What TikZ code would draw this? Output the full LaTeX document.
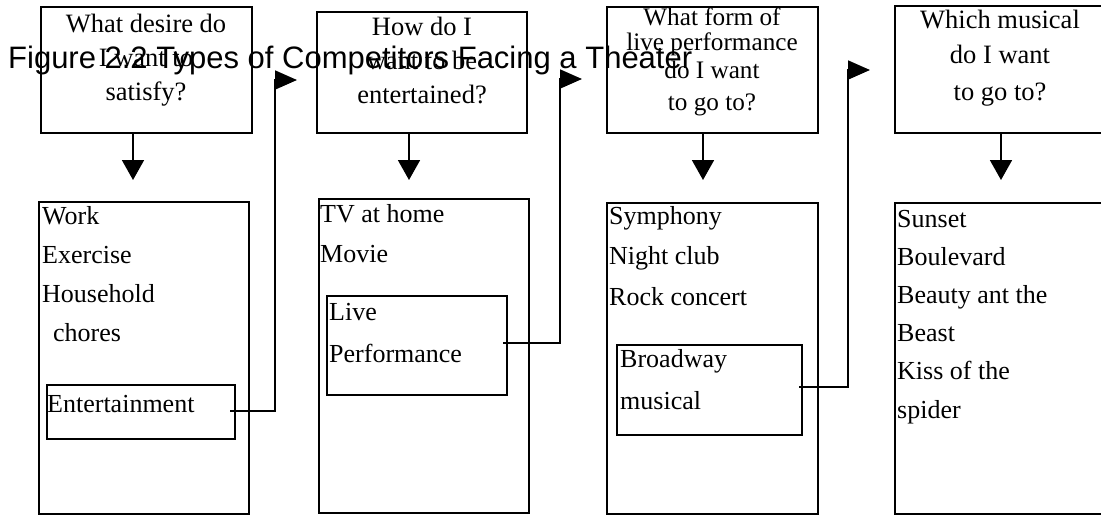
\documentclass[tikz,border=0pt]{standalone}
\usepackage{fontspec}
\setmainfont{Liberation Serif}
\newfontfamily\arialf{Liberation Sans}
\usetikzlibrary{arrows.meta}
\begin{document}
\begin{tikzpicture}[x=1pt,y=-1pt,
  box/.style={draw,line width=1.8pt,inner sep=0pt,outer sep=0pt,anchor=north west},
  qt/.style={anchor=base,inner sep=0pt,font=\fontsize{26.5}{26.5}\selectfont},
  qs/.style={anchor=base,inner sep=0pt,font=\fontsize{25.2}{25.2}\selectfont},
  lt/.style={anchor=base west,inner sep=0pt,font=\fontsize{26}{26}\selectfont},
  dn/.style={line width=1.8pt,-{Triangle[length=20pt,width=22pt]}},
  rt/.style={line width=1.8pt,-{Triangle[length=22pt,width=19pt]}}]
\useasboundingbox (0,0) rectangle (1101,515);
\clip (0,0) rectangle (1101,515);
% top boxes
\node[box,minimum width=211pt,minimum height=126pt] (q1) at (41,7) {};
\node[box,minimum width=210pt,minimum height=121pt] (q2) at (317,12) {};
\node[box,minimum width=211pt,minimum height=126pt] (q3) at (607,7) {};
\node[box,minimum width=220pt,minimum height=127pt] (q4) at (895,6) {};
% bottom boxes
\node[box,minimum width=210pt,minimum height=312pt] (b1) at (39,202) {};
\node[box,minimum width=210pt,minimum height=314pt] (b2) at (319,199) {};
\node[box,minimum width=211pt,minimum height=311pt] (b3) at (607,203) {};
\node[box,minimum width=220pt,minimum height=311pt] (b4) at (895,203) {};
% inner boxes
\node[box,minimum width=188pt,minimum height=54pt] (e1) at (47,385) {};
\node[box,minimum width=180pt,minimum height=99pt] (e2) at (327,296) {};
\node[box,minimum width=185pt,minimum height=90pt] (e3) at (617,345) {};
% question texts
\node[qt] (q1a) at (146,32) {What desire do};
\node[qt] (q1b) at (146,66) {I want to};
\node[qt] (q1c) at (146,100) {satisfy?};
\node[qt] (q2a) at (422,35) {How do I};
\node[qt] (q2b) at (422,69) {want to be};
\node[qt] (q2c) at (422,103) {entertained?};
\node[qs] (q3a) at (712,25) {What form of};
\node[qs] (q3b) at (712,50) {live performance};
\node[qs] (q3c) at (712,78) {do I want};
\node[qs] (q3d) at (712,110) {to go to?};
\node[qt] (q4a) at (1000,28) {Which musical};
\node[qt] (q4b) at (1000,63) {do I want};
\node[qt] (q4c) at (1000,100) {to go to?};
% list texts
\foreach \t [count=\i] in {Work,Exercise,Household}
  \node[lt] (l1\i) at (42,{224+39*(\i-1)}) {\t};
\node[lt] (l14) at (53,341) {chores};
\node[lt] (l1e) at (47,412) {Entertainment};
\node[lt] (l21) at (320,222) {TV at home};
\node[lt] (l22) at (320,262) {Movie};
\node[lt] (l2a) at (329,320) {Live};
\node[lt] (l2b) at (329,362) {Performance};
\node[lt] (l31) at (609,224) {Symphony};
\node[lt] (l32) at (609,264) {Night club};
\node[lt] (l33) at (609,305) {Rock concert};
\node[lt] (l3a) at (620,367) {Broadway};
\node[lt] (l3b) at (620,409) {musical};
\foreach \t [count=\i] in {Sunset,Boulevard,Beauty ant the,Beast,Kiss of the,spider}
  \node[lt] (l4\i) at (897,{227+38.2*(\i-1)}) {\t};
% title
\node[anchor=base west,inner sep=0pt,font=\arialf\fontsize{31}{31}\selectfont] (title) at (8,68) {Figure 2.2 Types of Competitors Facing a Theater};
% down arrows
\draw[dn] ([xshift=-13.5pt]q1.south) -- ++(0,47);
\draw[dn] ([xshift=-13pt]q2.south) -- ++(0,47);
\draw[dn] ([xshift=-9.5pt]q3.south) -- ++(0,47);
\draw[dn] ([xshift=-4pt]q4.south) -- ++(0,47);
% right connectors
\coordinate (t1) at (297,80);
\coordinate (t2) at (582,79);
\coordinate (t3) at (870,70);
\draw[rt] ([xshift=-5pt,yshift=1pt]e1.east) -| ([xshift=-22pt]t1) -- (t1);
\draw[rt] ([xshift=-4pt,yshift=2.5pt]e2.east) -| ([xshift=-22pt]t2) -- (t2);
\draw[rt] ([xshift=-3pt,yshift=3pt]e3.east) -| ([xshift=-22pt]t3) -- (t3);
\end{tikzpicture}
\end{document}
